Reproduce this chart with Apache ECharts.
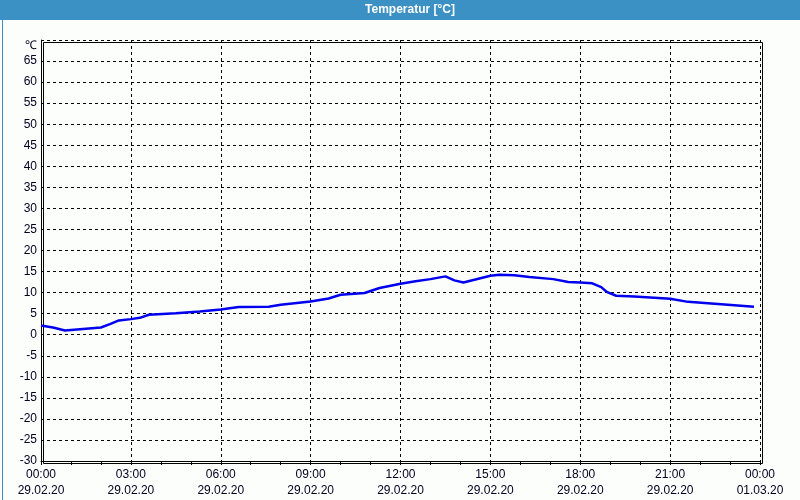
<!DOCTYPE html>
<html>
<head>
<meta charset="utf-8">
<script src="https://cdn.jsdelivr.net/npm/echarts@6/dist/echarts.min.js"></script>
<style>html,body{margin:0;padding:0;background:#fcfefc}#c{width:800px;height:500px}</style>
</head>
<body>
<div id="c"></div>
<script>
// hours since 29.02.20 00:00
var hours = [0, 0.4, 0.8, 1.3, 2.0, 2.3, 2.6, 3.0, 3.3, 3.6, 4.5, 5.3, 6.0, 6.6, 7.6, 8.0, 9.0, 9.6, 10.0, 10.8, 11.3, 12.0, 12.5, 13.0, 13.5, 13.8, 14.1, 14.5, 15.0, 15.3, 15.8, 16.3, 17.1, 17.6, 18.0, 18.4, 18.7, 18.9, 19.2, 19.8, 21.0, 21.6, 22.6, 23.8];
var temps = [2.2, 1.7, 1.0, 1.3, 1.7, 2.5, 3.4, 3.7, 4.0, 4.75, 5.1, 5.5, 6.0, 6.6, 6.65, 7.1, 7.9, 8.6, 9.5, 9.9, 11.1, 12.1, 12.7, 13.2, 13.85, 12.9, 12.4, 13.1, 14.0, 14.25, 14.1, 13.7, 13.2, 12.5, 12.4, 12.2, 11.3, 10.1, 9.25, 9.1, 8.55, 7.8, 7.3, 6.65];
var yTicks = [-30, -25, -20, -15, -10, -5, 0, 5, 10, 15, 20, 25, 30, 35, 40, 45, 50, 55, 60, 65, 70];
var title = 'Temperatur [°C]';
var unitLabel = '℃';

var data = hours.map(function (h, i) { return [h, temps[i]]; });
function pad(n) { return (n < 10 ? '0' : '') + n; }
var chart = echarts.init(document.getElementById('c'));
chart.setOption({
  backgroundColor: '#fcfefc',
  animation: false,
  textStyle: { fontFamily: 'Liberation Sans' },
  graphic: [
    { type: 'rect', left: 0, top: 0, shape: { width: 800, height: 20 }, style: { fill: '#3b91c4' }, z: 10 },
    { type: 'rect', left: 0, top: 0, shape: { x: 0.5, y: 0.5, width: 799, height: 499 }, style: { fill: 'none', stroke: '#3b91c4', lineWidth: 1 }, z: 10 },
    { type: 'text', x: 410, y: 10, style: { text: title, fill: '#ffffff', font: 'bold 12px Liberation Sans', align: 'center', verticalAlign: 'middle' }, z: 11 },
    { type: 'rect', left: 41, top: 40, shape: { width: 719, height: 421 }, style: { fill: 'none', stroke: '#000', lineWidth: 1 }, z: 5 }
  ],
  grid: { left: 41, right: 40, top: 40, bottom: 39, show: false, outerBoundsMode: 'none', containLabel: false },
  xAxis: {
    type: 'value', min: 0, max: 24, interval: 3,
    axisLine: { show: true, onZero: false, lineStyle: { color: '#000', width: 1 } },
    axisTick: { show: true, length: 4, lineStyle: { color: '#000' } },
    minorTick: { show: true, splitNumber: 3, length: 4, lineStyle: { color: '#000' } },
    splitLine: { show: true, lineStyle: { color: '#000', type: [3, 3], width: 1 } },
    axisLabel: {
      color: '#000020', fontSize: 12, lineHeight: 16, margin: 6,
      formatter: function (v) {
        var d = v >= 24 ? '01.03.20' : '29.02.20';
        return pad(v % 24) + ':00\n' + d;
      }
    }
  },
  yAxis: {
    type: 'value', min: -30, max: 70, interval: 5,
    axisLine: { show: true, onZero: false, lineStyle: { color: '#000', width: 1 } },
    axisTick: { show: false },
    splitLine: { show: true, lineStyle: { color: '#000', type: [3, 3], width: 1 } },
    axisLabel: {
      color: '#000020', fontSize: 12, margin: 4,
      formatter: function (v) { return v === yTicks[yTicks.length - 1] ? '{u|' + unitLabel + '}' : String(v); },
      rich: { u: { color: '#000020', fontSize: 12, padding: [12, 0, 0, 0] } }
    }
  },
  series: [{
    type: 'line', data: data, showSymbol: false, smooth: false,
    lineStyle: { color: '#0000ee', width: 2.5 }, z: 8
  }]
});
</script>
</body>
</html>
